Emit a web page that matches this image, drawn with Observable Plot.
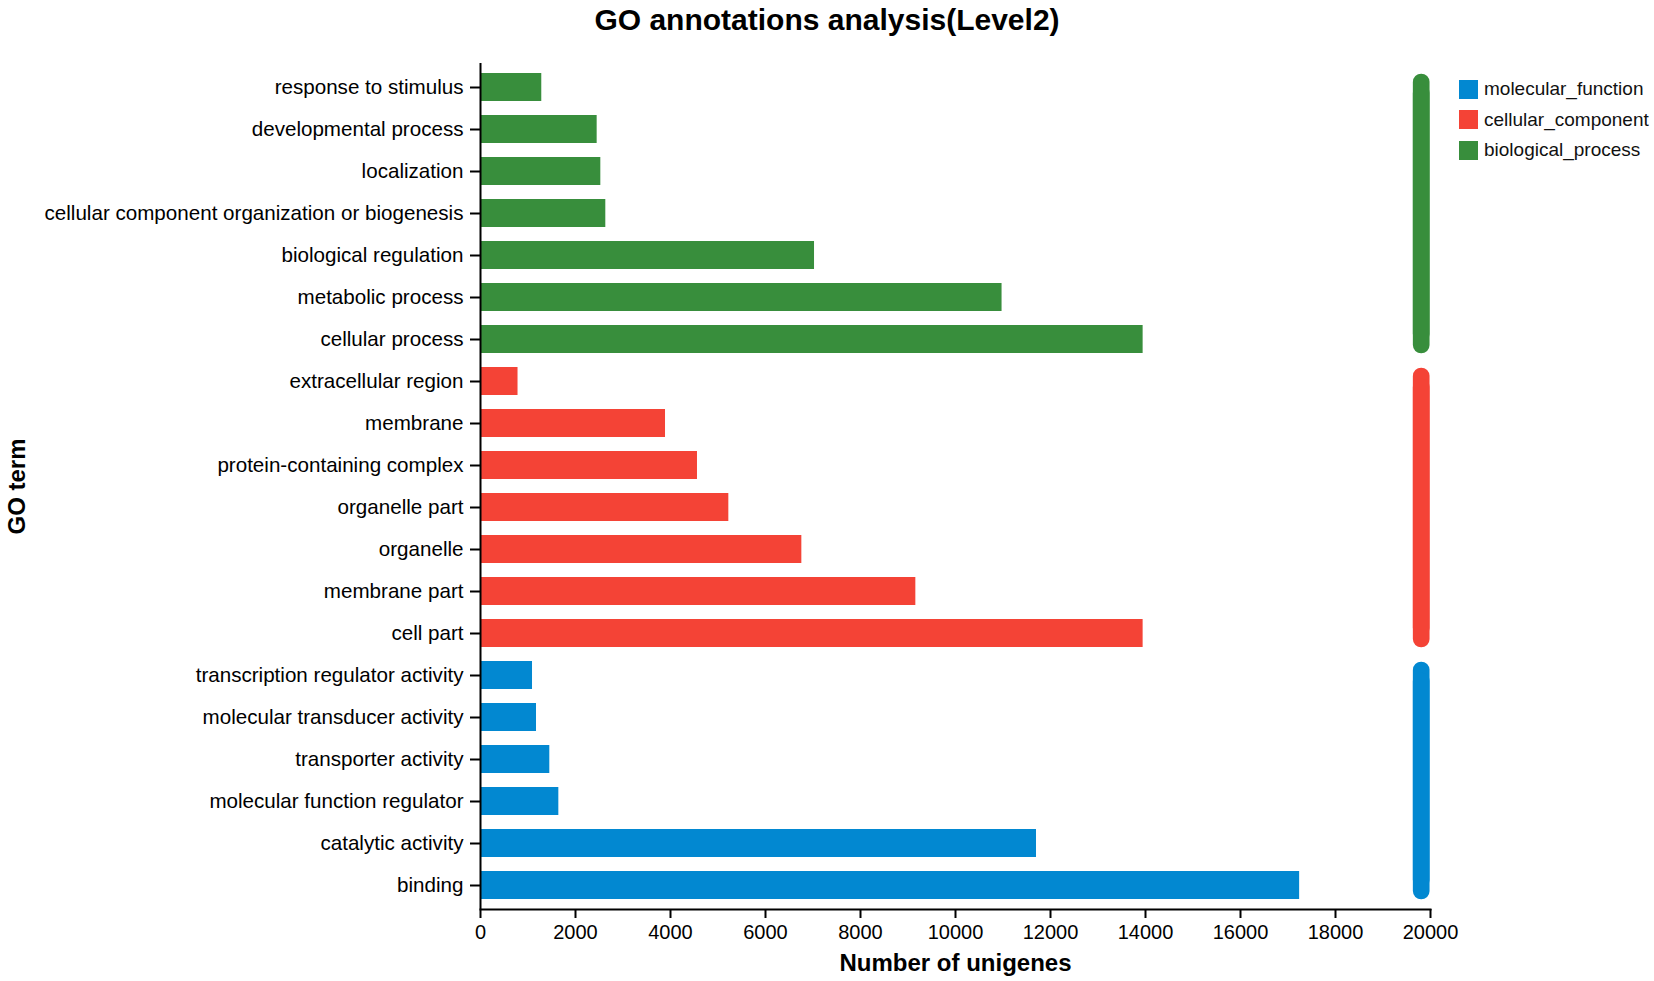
<!DOCTYPE html>
<html>
<head>
<meta charset="utf-8">
<script src="https://cdn.jsdelivr.net/npm/d3@7"></script>
<script src="https://cdn.jsdelivr.net/npm/@observablehq/plot@0.6"></script>
<style>
  body { margin: 0; background: #fff; overflow: hidden; font-family: "Liberation Sans", Arial, sans-serif; }
  #wrap { position: relative; width: 1654px; height: 981px; }
  #chart svg { display: block; }
  #title { position: absolute; left: 0; top: 5px; width: 1654px; text-align: center; font-size: 30px; font-weight: bold; line-height: 30px; color: #000; }
  #legend { position: absolute; left: 1459px; top: 74px; }
  .item { display: flex; align-items: center; height: 30.5px; font-size: 19px; color: #111; white-space: nowrap; }
  .sw { width: 19px; height: 19px; margin-right: 6px; flex: none; }
</style>
</head>
<body>
<div id="wrap">
  <div id="chart"></div>
  <div id="title">GO annotations analysis(Level2)</div>
  <div id="legend"></div>
</div>
<script>
const terms = [
  "response to stimulus",
  "developmental process",
  "localization",
  "cellular component organization or biogenesis",
  "biological regulation",
  "metabolic process",
  "cellular process",
  "extracellular region",
  "membrane",
  "protein-containing complex",
  "organelle part",
  "organelle",
  "membrane part",
  "cell part",
  "transcription regulator activity",
  "molecular transducer activity",
  "transporter activity",
  "molecular function regulator",
  "catalytic activity",
  "binding"
];
const counts = [
  1290, 2456, 2533, 2638, 7032, 10980, 13950,
  790, 3895, 4568, 5228, 6765, 9165, 13950,
  1095, 1179, 1459, 1649, 11705, 17245
];
const groups = [
  "biological_process", "biological_process", "biological_process", "biological_process",
  "biological_process", "biological_process", "biological_process",
  "cellular_component", "cellular_component", "cellular_component", "cellular_component",
  "cellular_component", "cellular_component", "cellular_component",
  "molecular_function", "molecular_function", "molecular_function",
  "molecular_function", "molecular_function", "molecular_function"
];
const categoryNames = ["molecular_function", "cellular_component", "biological_process"];
const categoryColors = ["#0288D1", "#F44336", "#388E3C"];
const xTicks = [0, 2000, 4000, 6000, 8000, 10000, 12000, 14000, 16000, 18000, 20000];
const xMax = 20000;

const data = terms.map((t, i) => ({term: t, count: counts[i], group: groups[i]}));
const spans = categoryNames.flatMap(g => {
  const t = terms.filter((d, i) => groups[i] === g);
  return [{g, term: t[0]}, {g, term: t[t.length - 1]}];
});

const spanStyle = {x: () => xMax, y: "term", z: "g", stroke: "g", strokeWidth: 16.7, strokeLinecap: "round", dx: -9.3};

const chart = Plot.plot({
  width: 1654,
  height: 981,
  marginTop: 63,
  marginBottom: 72,
  marginLeft: 480,
  marginRight: 224,
  style: {fontFamily: "'Liberation Sans', Arial, sans-serif", fontSize: "20px", color: "#000", background: "#fff", overflow: "visible"},
  x: {domain: [0, xMax]},
  y: {domain: terms, paddingInner: 0.345, paddingOuter: 0.1725},
  color: {domain: categoryNames, range: categoryColors},
  marks: [
    Plot.barX(data, {x: "count", y: "term", fill: "group"}),
    Plot.line(spans, {...spanStyle, dy: -5.5}),
    Plot.line(spans, {...spanStyle, dy: 5.5}),
    Plot.ruleX([0], {stroke: "#000", strokeWidth: 2}),
    Plot.frame({anchor: "bottom", stroke: "#000", strokeWidth: 2}),
    Plot.axisX({ticks: xTicks, tickFormat: d3.format("d"), tickSize: 9, tickPadding: 6, fontSize: 20, label: null, strokeWidth: 2}),
    Plot.axisY({tickSize: 10, tickPadding: 7, fontSize: 20.6, label: null, strokeWidth: 2}),
    Plot.text(["Number of unigenes"], {frameAnchor: "bottom", dy: 54, lineAnchor: "middle", fontSize: 24, fontWeight: "bold"}),
    Plot.text(["GO term"], {frameAnchor: "left", dx: -463, rotate: -90, textAnchor: "middle", lineAnchor: "middle", fontSize: 24, fontWeight: "bold"})
  ]
});
document.getElementById("chart").appendChild(chart);

const legend = document.getElementById("legend");
categoryNames.forEach((name, i) => {
  const item = document.createElement("div");
  item.className = "item";
  const sw = document.createElement("div");
  sw.className = "sw";
  sw.style.background = categoryColors[i];
  const label = document.createElement("span");
  label.textContent = name;
  item.appendChild(sw);
  item.appendChild(label);
  legend.appendChild(item);
});
</script>
</body>
</html>
